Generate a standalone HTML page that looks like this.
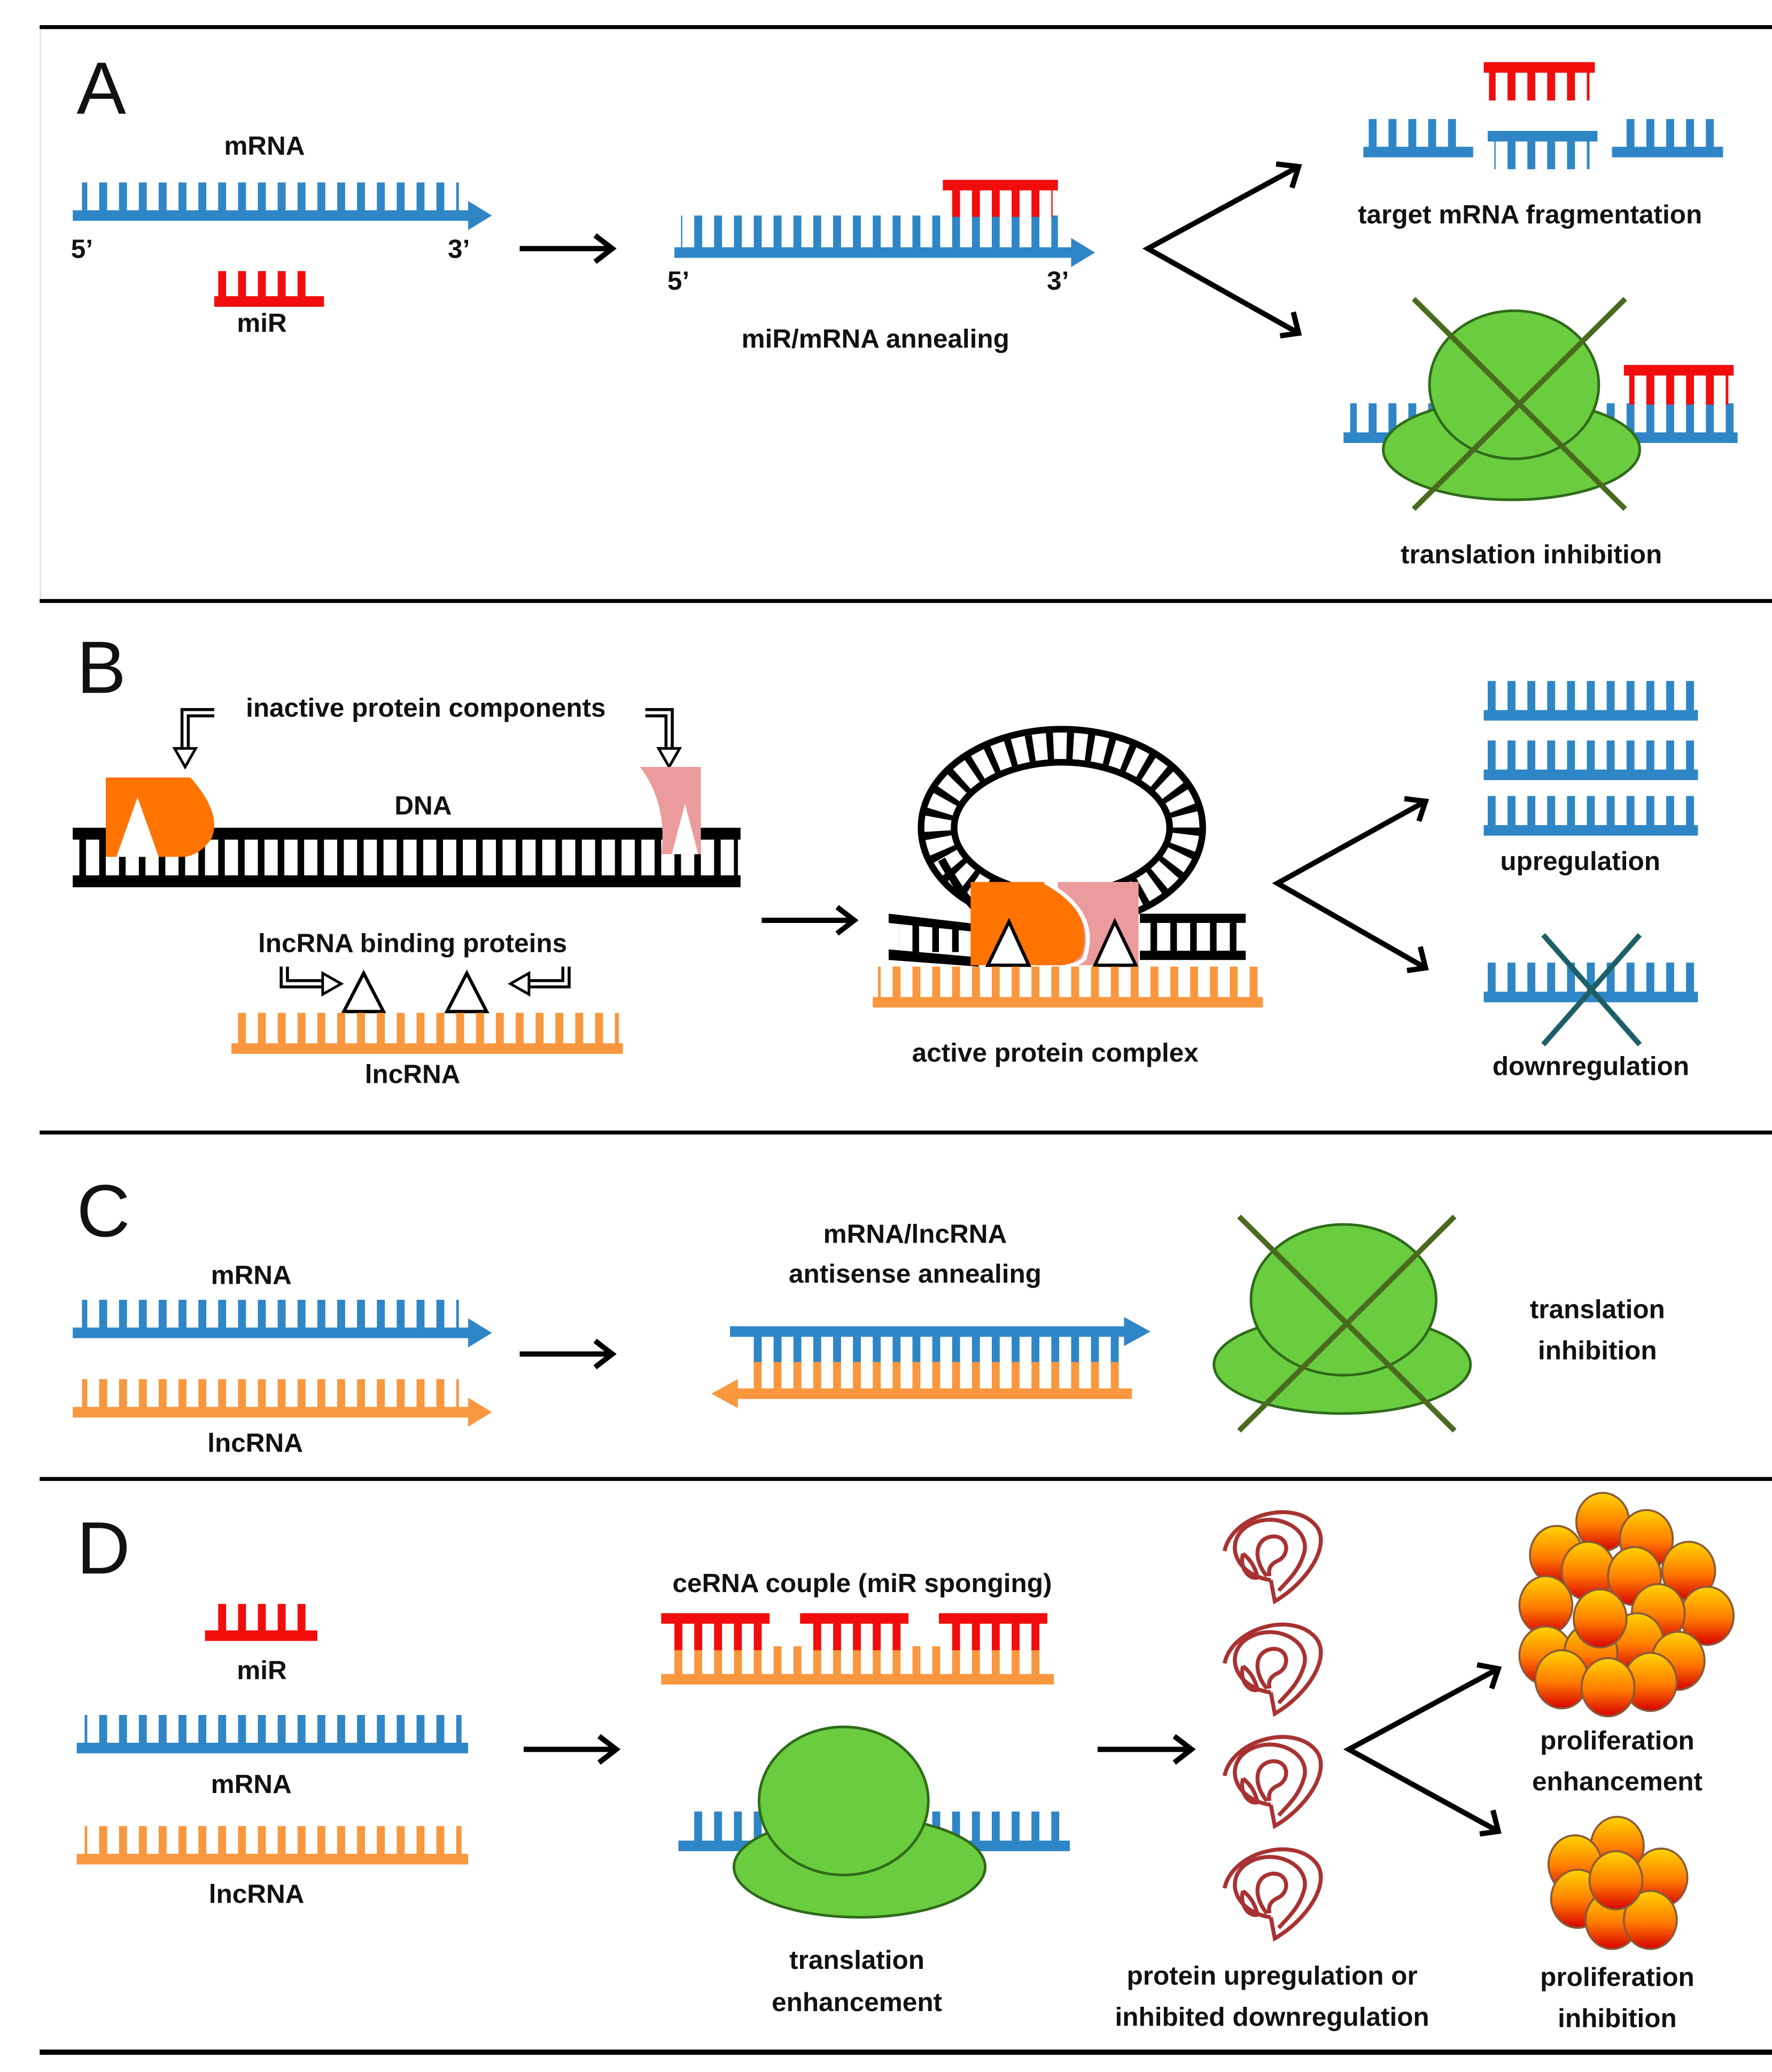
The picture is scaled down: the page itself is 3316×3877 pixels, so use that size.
<!DOCTYPE html>
<html><head><meta charset="utf-8"><style>
html,body{margin:0;padding:0;background:#fff}
svg{display:block}
text{font-family:"Liberation Sans",sans-serif;font-weight:bold;font-size:20px;fill:#111;text-anchor:middle}
.big{font-weight:normal;font-size:56px;text-anchor:start}
</style></head><body>
<svg width="3316" height="3877" viewBox="0 0 1340 1567" preserveAspectRatio="none" xmlns="http://www.w3.org/2000/svg">
<defs>
<pattern id="pb" patternUnits="userSpaceOnUse" width="15" height="100"><rect x="0" y="0" width="6" height="100" fill="#2f86c6"/></pattern>
<pattern id="pr" patternUnits="userSpaceOnUse" width="15" height="100"><rect x="0" y="0" width="6" height="100" fill="#f20d0d"/></pattern>
<pattern id="po" patternUnits="userSpaceOnUse" width="15" height="100"><rect x="0" y="0" width="6" height="100" fill="#f9973f"/></pattern>
<pattern id="pk" patternUnits="userSpaceOnUse" width="15" height="100"><rect x="0" y="0" width="5" height="100" fill="#000"/></pattern>
<linearGradient id="cg" x1="0" y1="0" x2="0" y2="1"><stop offset="0" stop-color="#ffd400"/><stop offset="0.55" stop-color="#ff7a00"/><stop offset="1" stop-color="#d80000"/></linearGradient>
<g id="cell"><ellipse cx="0" cy="0" rx="20" ry="22" fill="url(#cg)" stroke="#8a5a3a" stroke-width="1.5"/></g>
<g id="spiral" fill="none" stroke="#a83232" stroke-width="3">
<path d="M-36 -2 C-30 -30 18 -42 34 -20 C44 -5 26 22 2 36 L-1 20"/>
<path d="M-1 20 C-28 16 -36 -8 -20 -20 C0 -34 30 -20 24 0 C20 14 10 22 5 28"/>
<path d="M-4 17 C-14 5 -14 -11 0 -13 C12 -14 14 0 5 5 C-2 8 -3 12 -2 17"/>
<path d="M-22 0 C-25 10 -18 20 -11 18 C-13 10 -16 5 -22 0"/>
</g>
</defs>
<rect width="1340" height="1567" fill="#fff"/>
<g fill="#000">
<rect x="30" y="19" width="1310" height="3"/>
<rect x="30" y="453" width="1310" height="3"/>
<rect x="30" y="855" width="1310" height="3"/>
<rect x="30" y="1117" width="1310" height="3"/>
<rect x="30" y="1550" width="1310" height="4"/>
</g>
<rect x="30" y="22" width="1" height="431" fill="#ddd"/>

<!-- ===== A ===== -->
<text class="big" x="58" y="86">A</text>
<text x="200" y="117">mRNA</text>
<rect x="62" y="138" width="285" height="23" fill="url(#pb)"/>
<rect x="55" y="159" width="302" height="8" fill="#2f86c6"/>
<polygon points="354,152 372,163 354,174" fill="#2f86c6"/>
<text x="62" y="195">5’</text><text x="347" y="195">3’</text>
<rect x="165" y="205" width="70" height="21" fill="url(#pr)"/>
<rect x="162" y="224" width="83" height="8" fill="#f20d0d"/>
<text x="198" y="251">miR</text>
<line x1="393" y1="188" x2="460" y2="188" stroke="#000" stroke-width="4"/>
<polyline points="450,178 463,188 450,198" fill="none" stroke="#000" stroke-width="4"/>

<rect x="515" y="163" width="285" height="27" fill="url(#pb)"/>
<rect x="510" y="187" width="302" height="8" fill="#2f86c6"/>
<polygon points="810,180 828,191 810,202" fill="#2f86c6"/>
<rect x="716" y="143" width="80" height="21" fill="url(#pr)"/>
<rect x="713" y="136" width="87" height="8" fill="#f20d0d"/>
<text x="513" y="219">5’</text><text x="800" y="219">3’</text>
<text x="662" y="263">miR/mRNA annealing</text>

<g stroke="#000" stroke-width="4" fill="none">
<polyline points="982,126 868,188 982,252"/>
<polyline points="965,124 982,126 977,142"/>
<polyline points="968,254 982,252 978,236"/>
</g>
<rect x="1126" y="54" width="76" height="22" fill="url(#pr)"/>
<rect x="1122" y="47" width="84" height="8" fill="#f20d0d"/>
<rect x="1035" y="90" width="74" height="23" fill="url(#pb)"/>
<rect x="1031" y="111" width="83" height="8" fill="#2f86c6"/>
<rect x="1130" y="106" width="72" height="22" fill="url(#pb)"/>
<rect x="1125" y="99" width="83" height="8" fill="#2f86c6"/>
<rect x="1222" y="90" width="74" height="23" fill="url(#pb)"/>
<rect x="1219" y="111" width="84" height="8" fill="#2f86c6"/>
<text x="1157" y="169">target  mRNA fragmentation</text>

<rect x="1021" y="305" width="290" height="24" fill="url(#pb)"/>
<rect x="1016" y="327" width="298" height="8" fill="#2f86c6"/>
<rect x="1232" y="283" width="75" height="23" fill="url(#pr)"/>
<rect x="1228" y="276" width="83" height="8" fill="#f20d0d"/>
<ellipse cx="1143" cy="340" rx="97" ry="38" fill="#6acd3f" stroke="#2f6b1a" stroke-width="2"/>
<ellipse cx="1145" cy="291" rx="64" ry="56" fill="#6acd3f" stroke="#2f6b1a" stroke-width="2"/>
<g stroke="#4a6a1f" stroke-width="4"><line x1="1069" y1="226" x2="1229" y2="385"/><line x1="1229" y1="226" x2="1069" y2="385"/></g>
<text x="1158" y="426">translation inhibition</text>

<!-- ===== B ===== -->
<text class="big" x="58" y="524">B</text>
<text x="322" y="542">inactive protein components</text>
<g fill="none" stroke="#000" stroke-width="7"><polyline points="162,539 140,539 140,568"/><polyline points="488,539 506,539 506,568"/></g>
<g fill="none" stroke="#fff" stroke-width="2.5"><polyline points="164,539 140,539 140,570"/><polyline points="486,539 506,539 506,570"/></g>
<polygon points="132,566 148,566 140,580" fill="#fff" stroke="#000" stroke-width="2"/>
<polygon points="498,566 514,566 506,580" fill="#fff" stroke="#000" stroke-width="2"/>
<text x="320" y="616">DNA</text>
<rect x="58" y="634" width="500" height="30" fill="url(#pk)"/>
<rect x="55" y="626" width="505" height="9" fill="#000"/>
<rect x="55" y="662" width="505" height="9" fill="#000"/>
<path d="M80 588 L144 588 Q168 615 160 634 Q152 646 140 648 L80 648 Z" fill="#ff7300"/>
<polygon points="88,648 120,648 104,603" fill="#fff"/>
<path d="M484 580 L530 580 L530 646 L500 646 Q505 608 484 580 Z" fill="#eb9b9b"/>
<polygon points="508,646 528,646 518,608" fill="#fff"/>

<text x="312" y="720">lncRNA binding proteins</text>
<g fill="none" stroke="#000" stroke-width="7"><polyline points="215,731 215,744 246,744"/><polyline points="428,731 428,744 398,744"/></g>
<g fill="none" stroke="#fff" stroke-width="2.5"><polyline points="215,729 215,744 248,744"/><polyline points="428,729 428,744 396,744"/></g>
<polygon points="244,736 258,744 244,752" fill="#fff" stroke="#000" stroke-width="2"/>
<polygon points="400,736 386,744 400,752" fill="#fff" stroke="#000" stroke-width="2"/>
<polygon points="260,765 290,765 275,736" fill="#fff" stroke="#000" stroke-width="2.5"/>
<polygon points="338,765 368,765 353,736" fill="#fff" stroke="#000" stroke-width="2.5"/>
<rect x="178" y="766" width="290" height="25" fill="url(#po)"/>
<rect x="175" y="789" width="296" height="8" fill="#f9973f"/>
<text x="312" y="819">lncRNA</text>

<line x1="576" y1="696" x2="643" y2="696" stroke="#000" stroke-width="4"/>
<polyline points="633,686 646,696 633,706" fill="none" stroke="#000" stroke-width="4"/>

<ellipse cx="803" cy="626" rx="94" ry="62" fill="none" stroke="#000" stroke-width="30"/>
<ellipse cx="803" cy="626" rx="94" ry="62" fill="none" stroke="#fff" stroke-width="20"/>
<ellipse cx="803" cy="626" rx="94" ry="62" fill="none" stroke="#000" stroke-width="20" stroke-dasharray="5 10"/>
<path d="M712 650 Q740 700 760 700" fill="none" stroke="#000" stroke-width="6"/>
<g fill="#000">
<polygon points="672,691 740,699 740,705 672,698"/>
<polygon points="672,718 740,724 740,731 672,726"/>
<rect x="862" y="691" width="80" height="7"/>
<rect x="862" y="719" width="80" height="7"/>
</g>
<rect x="680" y="698" width="58" height="22" fill="url(#pk)"/>
<rect x="868" y="698" width="70" height="22" fill="url(#pk)"/>
<path d="M800 667 L861 667 L861 730 L800 730 Z" fill="#eb9b9b"/>
<path d="M734 667 L790 667 Q828 690 818 722 Q812 730 800 730 L734 730 Z" fill="#ff7300"/>
<path d="M790 667 Q832 690 820 725 Q815 730 806 731" fill="none" stroke="#fff" stroke-width="3"/>
<polygon points="747,730 778,730 763,697" fill="#fff" stroke="#000" stroke-width="2.5"/>
<polygon points="828,730 859,730 843,697" fill="#fff" stroke="#000" stroke-width="2.5"/>
<rect x="664" y="731" width="290" height="25" fill="url(#po)"/>
<rect x="660" y="754" width="295" height="8" fill="#f9973f"/>
<text x="798" y="803">active protein complex</text>

<g stroke="#000" stroke-width="4" fill="none">
<polyline points="1078,606 966,668 1078,732"/>
<polyline points="1062,604 1078,606 1073,621"/>
<polyline points="1064,734 1078,732 1074,716"/>
</g>
<rect x="1125" y="515" width="160" height="24" fill="url(#pb)"/>
<rect x="1122" y="537" width="162" height="8" fill="#2f86c6"/>
<rect x="1125" y="560" width="160" height="24" fill="url(#pb)"/>
<rect x="1122" y="582" width="162" height="8" fill="#2f86c6"/>
<rect x="1125" y="602" width="160" height="24" fill="url(#pb)"/>
<rect x="1122" y="624" width="162" height="8" fill="#2f86c6"/>
<text x="1195" y="658">upregulation</text>
<rect x="1125" y="728" width="160" height="24" fill="url(#pb)"/>
<rect x="1122" y="750" width="162" height="8" fill="#2f86c6"/>
<g stroke="#1d5f66" stroke-width="4"><line x1="1167" y1="707" x2="1240" y2="790"/><line x1="1240" y1="707" x2="1167" y2="790"/></g>
<text x="1203" y="813">downregulation</text>

<!-- ===== C ===== -->
<text class="big" x="58" y="935">C</text>
<text x="190" y="971">mRNA</text>
<rect x="62" y="983" width="285" height="23" fill="url(#pb)"/>
<rect x="55" y="1004" width="302" height="8" fill="#2f86c6"/>
<polygon points="354,997 372,1008 354,1019" fill="#2f86c6"/>
<rect x="62" y="1043" width="285" height="23" fill="url(#po)"/>
<rect x="55" y="1064" width="302" height="8" fill="#f9973f"/>
<polygon points="354,1057 372,1068 354,1079" fill="#f9973f"/>
<text x="193" y="1098">lncRNA</text>
<line x1="393" y1="1024" x2="460" y2="1024" stroke="#000" stroke-width="4"/>
<polyline points="450,1014 463,1024 450,1034" fill="none" stroke="#000" stroke-width="4"/>
<text x="692" y="940">mRNA/lncRNA</text>
<text x="692" y="970">antisense annealing</text>
<rect x="562" y="1010" width="285" height="22" fill="url(#pb)"/>
<rect x="562" y="1030" width="285" height="22" fill="url(#po)"/>
<rect x="552" y="1003" width="300" height="8" fill="#2f86c6"/>
<polygon points="850,996 870,1007 850,1018" fill="#2f86c6"/>
<rect x="556" y="1050" width="300" height="8" fill="#f9973f"/>
<polygon points="558,1043 538,1054 558,1065" fill="#f9973f"/>
<ellipse cx="1015" cy="1032" rx="97" ry="37" fill="#6acd3f" stroke="#2f6b1a" stroke-width="2"/>
<ellipse cx="1016" cy="983" rx="70" ry="57" fill="#6acd3f" stroke="#2f6b1a" stroke-width="2"/>
<g stroke="#4a6a1f" stroke-width="4"><line x1="937" y1="920" x2="1100" y2="1082"/><line x1="1100" y1="920" x2="937" y2="1082"/></g>
<text x="1208" y="997">translation</text>
<text x="1208" y="1028">inhibition</text>

<!-- ===== D ===== -->
<text class="big" x="58" y="1190">D</text>
<rect x="160" y="1213" width="72" height="22" fill="url(#pr)"/>
<rect x="155" y="1233" width="85" height="8" fill="#f20d0d"/>
<text x="198" y="1270">miR</text>
<rect x="64" y="1297" width="285" height="23" fill="url(#pb)"/>
<rect x="58" y="1318" width="296" height="8" fill="#2f86c6"/>
<text x="190" y="1356">mRNA</text>
<rect x="64" y="1381" width="285" height="23" fill="url(#po)"/>
<rect x="58" y="1402" width="296" height="8" fill="#f9973f"/>
<text x="194" y="1439">lncRNA</text>
<line x1="396" y1="1323" x2="463" y2="1323" stroke="#000" stroke-width="4"/>
<polyline points="453,1313 466,1323 453,1333" fill="none" stroke="#000" stroke-width="4"/>

<text x="652" y="1204">ceRNA couple (miR sponging)</text>
<rect x="503" y="1245" width="290" height="23" fill="url(#po)"/>
<rect x="500" y="1266" width="297" height="8" fill="#f9973f"/>
<rect x="503" y="1226" width="75" height="22" fill="url(#pr)"/>
<rect x="500" y="1220" width="82" height="8" fill="#f20d0d"/>
<rect x="608" y="1226" width="75" height="22" fill="url(#pr)"/>
<rect x="605" y="1220" width="82" height="8" fill="#f20d0d"/>
<rect x="713" y="1226" width="75" height="22" fill="url(#pr)"/>
<rect x="710" y="1220" width="82" height="8" fill="#f20d0d"/>

<rect x="518" y="1370" width="285" height="24" fill="url(#pb)"/>
<rect x="513" y="1392" width="296" height="8" fill="#2f86c6"/>
<ellipse cx="650" cy="1412" rx="95" ry="38" fill="#6acd3f" stroke="#2f6b1a" stroke-width="2"/>
<ellipse cx="638" cy="1362" rx="64" ry="56" fill="#6acd3f" stroke="#2f6b1a" stroke-width="2"/>
<text x="648" y="1489">translation</text>
<text x="648" y="1521">enhancement</text>

<line x1="830" y1="1323" x2="898" y2="1323" stroke="#000" stroke-width="4"/>
<polyline points="888,1313 901,1323 888,1333" fill="none" stroke="#000" stroke-width="4"/>
<use href="#spiral" x="962" y="1175"/>
<use href="#spiral" x="962" y="1260"/>
<use href="#spiral" x="962" y="1345"/>
<use href="#spiral" x="962" y="1430"/>
<text x="962" y="1501">protein upregulation or</text>
<text x="962" y="1532">inhibited downregulation</text>

<g stroke="#000" stroke-width="4" fill="none">
<polyline points="1133,1262 1020,1323 1133,1385"/>
<polyline points="1117,1259 1133,1262 1128,1277"/>
<polyline points="1119,1387 1133,1385 1129,1369"/>
</g>
<use href="#cell" x="1212" y="1151"/>
<use href="#cell" x="1245" y="1164"/>
<use href="#cell" x="1177" y="1176"/>
<use href="#cell" x="1201" y="1188"/>
<use href="#cell" x="1236" y="1192"/>
<use href="#cell" x="1277" y="1188"/>
<use href="#cell" x="1169" y="1214"/>
<use href="#cell" x="1291" y="1222"/>
<use href="#cell" x="1254" y="1220"/>
<use href="#cell" x="1169" y="1252"/>
<use href="#cell" x="1238" y="1242"/>
<use href="#cell" x="1269" y="1256"/>
<use href="#cell" x="1203" y="1250"/>
<use href="#cell" x="1181" y="1270"/>
<use href="#cell" x="1248" y="1272"/>
<use href="#cell" x="1216" y="1276"/>
<use href="#cell" x="1210" y="1224"/>
<text x="1223" y="1323">proliferation</text>
<text x="1223" y="1354">enhancement</text>
<use href="#cell" x="1223" y="1396"/>
<use href="#cell" x="1191" y="1410"/>
<use href="#cell" x="1256" y="1420"/>
<use href="#cell" x="1193" y="1436"/>
<use href="#cell" x="1219" y="1452"/>
<use href="#cell" x="1248" y="1452"/>
<use href="#cell" x="1222" y="1422"/>
<text x="1223" y="1502">proliferation</text>
<text x="1223" y="1533">inhibition</text>
</svg>
</body></html>
